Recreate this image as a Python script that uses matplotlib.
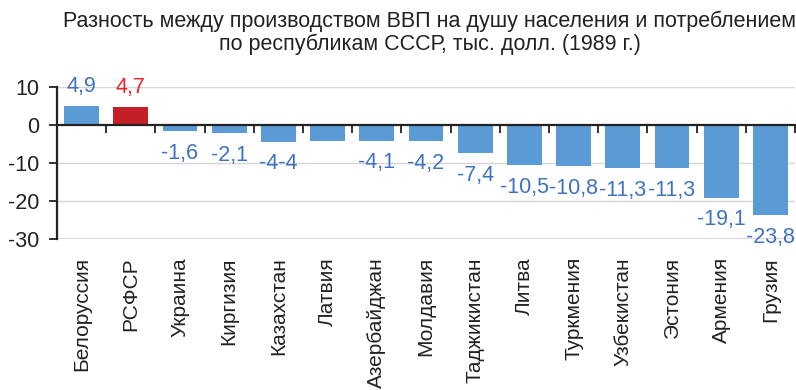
import matplotlib
matplotlib.use("Agg")
import matplotlib.pyplot as plt
from matplotlib.ticker import FixedLocator

plt.rcParams['font.family'] = ['Liberation Sans', 'DejaVu Sans']
plt.rcParams['axes.unicode_minus'] = False

republics = ["Белоруссия", "РСФСР", "Украина", "Киргизия", "Казахстан", "Латвия",
             "Азербайджан", "Молдавия", "Таджикистан", "Литва", "Туркмения",
             "Узбекистан", "Эстония", "Армения", "Грузия"]
values = [4.9, 4.7, -1.6, -2.1, -4.4, -4.1, -4.1, -4.2, -7.4, -10.5, -10.8,
          -11.3, -11.3, -19.1, -23.8]
value_labels = ["4,9", "4,7", "-1,6", "-2,1", "-4-4", None, "-4,1", "-4,2", "-7,4",
                "-10,5", "-10,8", "-11,3", "-11,3", "-19,1", "-23,8"]
highlight = "РСФСР"
title = ("Разность между производством ВВП на душу населения и потреблением\n"
         "по республикам СССР, тыс. долл. (1989 г.)")

bar_blue = "#5b9bd5"
bar_red = "#c21f26"
text_blue = "#3d72c0"
text_red = "#e8262b"
ink = "#222222"
fs = 15.5

fig = plt.figure(figsize=(7.96, 3.90), dpi=100)
ax = fig.add_axes([57/796, 1 - 239/390, (795 - 57)/796, (239 - 87)/390])

x = list(range(len(republics)))
colors = [bar_red if r == highlight else bar_blue for r in republics]
ax.bar(x, values, width=0.71, color=colors, zorder=2)

ax.set_xlim(-0.5, len(republics) - 0.5)
ax.set_ylim(-30, 10)
ax.set_yticks([-30, -20, -10, 0, 10])
ax.tick_params(axis='y', labelsize=fs, length=6, width=1.3, color=ink,
               labelcolor=ink, pad=7)
for yv in (10, -10, -20, -30):
    ax.axhline(yv, color="#d6d6d6", lw=1.4 if yv == -30 else 1.0, zorder=0)

for s in ("top", "right"):
    ax.spines[s].set_visible(False)
ax.spines["left"].set_linewidth(1.6)
ax.spines["left"].set_color(ink)
ax.spines["bottom"].set_position(("data", 0))
ax.spines["bottom"].set_linewidth(1.6)
ax.spines["bottom"].set_color(ink)
ax.spines["bottom"].set_zorder(3)

ax.xaxis.set_major_locator(FixedLocator([i + 0.5 for i in x]))
ax.tick_params(axis='x', length=6, width=1.3, color=ink, labelbottom=False,
               direction='out')

# value labels above/below bars
for i, (v, lab, r) in enumerate(zip(values, value_labels, republics)):
    if lab is None:
        continue
    c = text_red if r == highlight else text_blue
    dy = 14.5 if v >= 0 else -16
    ax.annotate(lab, (i, v), xytext=(0, dy), textcoords="offset points",
                ha="center", va="center", fontsize=fs, color=c)

# category names, rotated, below the plot
for i, r in enumerate(republics):
    ax.annotate(r, (i, -30), xytext=(0, -13), textcoords="offset points",
                ha="center", va="top", rotation=90, fontsize=15, color=ink,
                annotation_clip=False)

fig.text(430/796, 1 - 33/390, title, ha="center", va="center", fontsize=15.5,
         color=ink, linespacing=1.08)

fig.savefig("out.png", dpi=100)
